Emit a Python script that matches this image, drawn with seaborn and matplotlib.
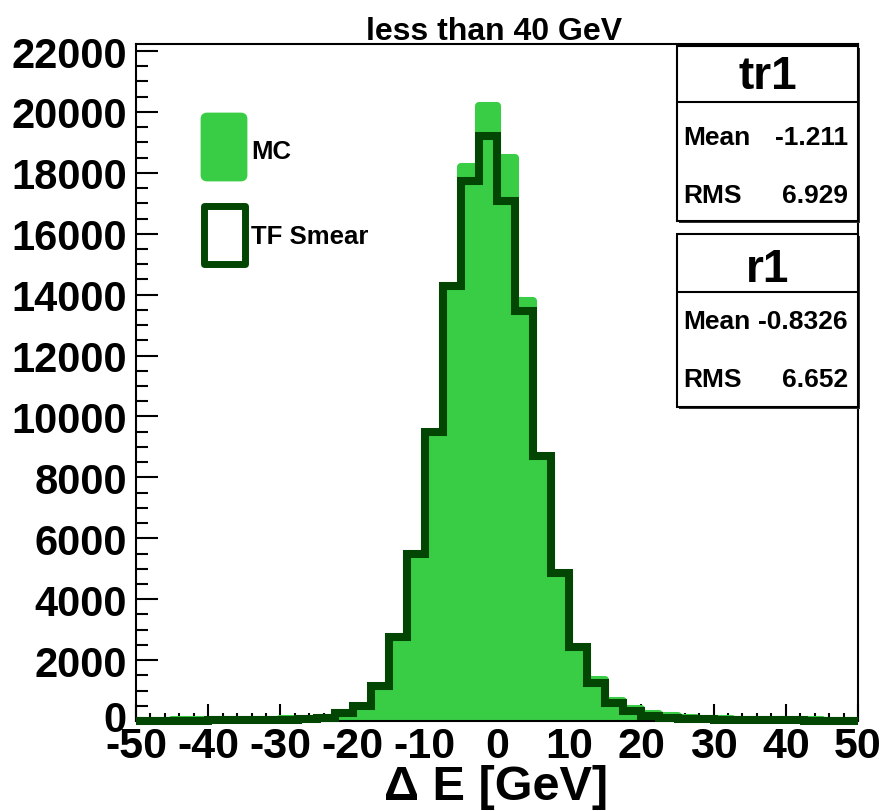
import numpy as np
import pandas as pd
import seaborn as sns
import matplotlib
matplotlib.use("Agg")
import matplotlib.pyplot as plt
import matplotlib.transforms as mtransforms
from matplotlib.patches import Rectangle, FancyBboxPatch
from matplotlib.ticker import MultipleLocator

# ---- data -------------------------------------------------------------
bin_edges = [float(v) for v in np.linspace(-50, 50, 41)]   # 40 bins of 2.5 GeV
mc_counts = [15, 15, 20, 20, 25, 30, 35, 45, 55, 70,
             110, 250, 450, 880, 2600, 5300, 9300, 14100, 18200, 20200,
             18500, 13800, 8600, 4800, 2350, 1350, 660, 380, 230, 150,
             100, 70, 55, 45, 35, 30, 25, 20, 15, 15]
tf_counts = [10, 10, 15, 15, 20, 20, 25, 30, 40, 55,
             90, 250, 490, 1150, 2750, 5490, 9500, 14290, 17730, 19200,
             17070, 13450, 8710, 4870, 2440, 1240, 590, 330, 170, 110,
             75, 55, 45, 35, 30, 25, 20, 15, 15, 10]
series_names = ["MC", "TF Smear"]
title_text = "less than 40 GeV"
x_label = "\u0394 E [GeV]"
stats_tr1 = {"name": "tr1", "Mean": "-1.211", "RMS": "6.929"}
stats_r1 = {"name": "r1", "Mean": "-0.8326", "RMS": "6.652"}

MC_GREEN = "#38cd44"
TF_DARK = "#034503"

# ---- style ------------------------------------------------------------
sns.set_style("ticks")
plt.rcParams["font.family"] = ["Liberation Sans", "DejaVu Sans"]
plt.rcParams["axes.unicode_minus"] = False
plt.rcParams["text.color"] = "black"
plt.rcParams["xtick.color"] = "black"
plt.rcParams["ytick.color"] = "black"
plt.rcParams["xtick.labelcolor"] = "black"
plt.rcParams["ytick.labelcolor"] = "black"

W, H = 883, 812
fig = plt.figure(figsize=(W / 100, H / 100), dpi=100)
fig.patch.set_facecolor("white")


def fx(x):
    return x / W


def fy(y):
    return 1 - y / H


ax_l, ax_r, ax_t, ax_b = 136, 858, 45, 722
ax = fig.add_axes([fx(ax_l), fy(ax_b), (ax_r - ax_l) / W, (ax_b - ax_t) / H])

centers = [e + 1.25 for e in bin_edges[:-1]]
df = pd.DataFrame({
    "dE": centers * 2,
    "count": mc_counts + tf_counts,
    "sample": [series_names[0]] * len(mc_counts) + [series_names[1]] * len(tf_counts),
})

mc = df[df["sample"] == series_names[0]]
tf = df[df["sample"] == series_names[1]]

sns.histplot(data=mc, x="dE", weights="count", bins=bin_edges,
             element="step", fill=True, color=MC_GREEN, alpha=1,
             edgecolor=MC_GREEN, linewidth=5.8, ax=ax)
n_before = len(ax.lines)
sns.histplot(data=tf, x="dE", weights="count", bins=bin_edges,
             element="step", fill=False, color=TF_DARK,
             linewidth=5.8, ax=ax)
for ln in ax.lines[n_before:]:
    ln.set_clip_on(False)
    ln.set_solid_capstyle("butt")
    ln.set_solid_joinstyle("miter")
    ln.set_zorder(3)

ax.set_xlim(-50, 50)
ax.set_ylim(0, 22230)
ax.set_xlabel("")
ax.set_ylabel("")
ax.xaxis.set_major_locator(MultipleLocator(10))
ax.xaxis.set_minor_locator(MultipleLocator(2))
ax.yaxis.set_major_locator(MultipleLocator(2000))
ax.yaxis.set_minor_locator(MultipleLocator(500))
ax.tick_params(which="both", direction="in", top=False, right=False,
               color="black", width=1.5)
ax.tick_params(axis="x", which="major", length=12, pad=3.6, labelsize=31)
ax.tick_params(axis="x", which="minor", length=6)
ax.tick_params(axis="y", which="major", length=16, pad=6.5, labelsize=30)
ax.tick_params(axis="y", which="minor", length=8.5)
for lab in ax.get_xticklabels() + ax.get_yticklabels():
    lab.set_fontweight("bold")
for sp in ax.spines.values():
    sp.set_visible(True)
    sp.set_color("black")
    sp.set_linewidth(1.5)

# lift the "0" label on the y axis a little so it sits above the x labels
fig.canvas.draw()
lift = mtransforms.ScaledTranslation(0, 5 / 100, fig.dpi_scale_trans)
for tick in ax.yaxis.get_major_ticks():
    if tick.get_loc() == 0:
        tick.label1.set_transform(tick.label1.get_transform() + lift)

# ---- title and axis label --------------------------------------------
fig.text(fx(494), fy(32), title_text, ha="center", va="center",
         fontsize=23, fontweight="bold")
fig.text(fx(496), fy(788), x_label, ha="center", va="center",
         fontsize=35, fontweight="bold")

# ---- legend -----------------------------------------------------------
fig.add_artist(FancyBboxPatch((fx(202), fy(181)), (246 - 202) / W, (181 - 115) / H,
                              boxstyle="round,pad=0,rounding_size=0.006",
                              transform=fig.transFigure, facecolor=MC_GREEN,
                              edgecolor=MC_GREEN, linewidth=2))
fig.add_artist(Rectangle((fx(203.5), fy(264.5)), (244.5 - 203.5) / W, (264.5 - 206.5) / H,
                         transform=fig.transFigure, facecolor="white",
                         edgecolor=TF_DARK, linewidth=5, joinstyle="round"))
fig.text(fx(251), fy(152), series_names[0], ha="left", va="center",
         fontsize=18.5, fontweight="bold")
fig.text(fx(251), fy(237), series_names[1], ha="left", va="center",
         fontsize=18.5, fontweight="bold")


# ---- statistics boxes -------------------------------------------------
def stats_box(stats, top, divider, bottom, y_name, y_mean, y_rms):
    left, right = 677, 858
    fig.add_artist(Rectangle((fx(left + 2), fy(bottom + 2)), (right - left) / W,
                             (bottom - top) / H, transform=fig.transFigure,
                             facecolor="#333333", edgecolor="none"))
    fig.add_artist(Rectangle((fx(left), fy(bottom)), (right - left) / W,
                             (bottom - top) / H, transform=fig.transFigure,
                             facecolor="white", edgecolor="black", linewidth=1.5))
    fig.add_artist(plt.Line2D([fx(left), fx(right)], [fy(divider), fy(divider)],
                              transform=fig.transFigure, color="black", linewidth=1.5))
    fig.text(fx((left + right) / 2), fy(y_name), stats["name"], ha="center",
             va="center", fontsize=33, fontweight="bold")
    fig.text(fx(683), fy(y_mean), "Mean", ha="left", va="center",
             fontsize=19, fontweight="bold")
    fig.text(fx(848), fy(y_mean), stats["Mean"], ha="right", va="center",
             fontsize=19, fontweight="bold")
    fig.text(fx(683), fy(y_rms), "RMS", ha="left", va="center",
             fontsize=19, fontweight="bold")
    fig.text(fx(848), fy(y_rms), stats["RMS"], ha="right", va="center",
             fontsize=19, fontweight="bold")


stats_box(stats_tr1, 47, 103, 222, 77, 138, 196)
stats_box(stats_r1, 235, 293, 408, 270, 322, 380)

fig.savefig("out.png", dpi=100, facecolor="white")
